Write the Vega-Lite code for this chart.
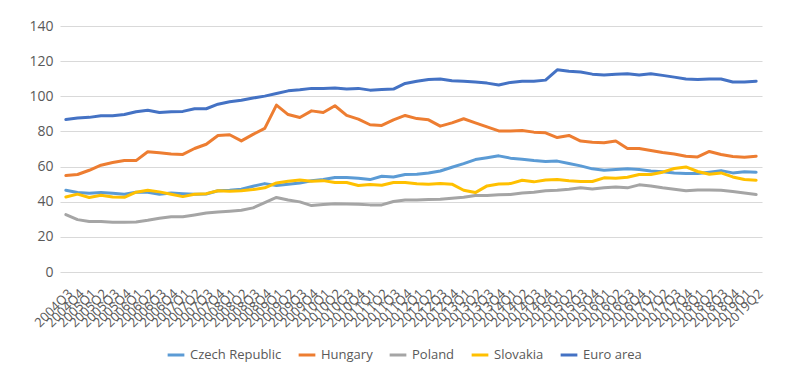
{
  "$schema": "https://vega.github.io/schema/vega-lite/v6.json",
  "width": 702,
  "height": 246,
  "autosize": "none",
  "padding": {"left": 60, "top": 26, "right": 27, "bottom": 98},
  "background": "white",
  "config": {
    "view": {"stroke": null},
    "font": "Open Sans",
    "axis": {"labelColor": "#595959", "labelFont": "Open Sans", "gridColor": "#d9d9d9", "gridWidth": 1}
  },
  "data": {"values": [
    {"q":"2004Q3","Czech Republic":46.5,"Hungary":54.9,"Poland":32.7,"Slovakia":42.7,"Euro area":86.8},
    {"q":"2004Q4","Czech Republic":45.2,"Hungary":55.5,"Poland":29.8,"Slovakia":44.3,"Euro area":87.6},
    {"q":"2005Q1","Czech Republic":44.8,"Hungary":57.9,"Poland":28.7,"Slovakia":42.4,"Euro area":88.0},
    {"q":"2005Q2","Czech Republic":45.2,"Hungary":60.8,"Poland":28.7,"Slovakia":43.7,"Euro area":88.9},
    {"q":"2005Q3","Czech Republic":44.8,"Hungary":62.3,"Poland":28.3,"Slovakia":42.7,"Euro area":88.9},
    {"q":"2005Q4","Czech Republic":44.3,"Hungary":63.4,"Poland":28.3,"Slovakia":42.5,"Euro area":89.6},
    {"q":"2006Q1","Czech Republic":45.4,"Hungary":63.4,"Poland":28.5,"Slovakia":45.4,"Euro area":91.2},
    {"q":"2006Q2","Czech Republic":45.4,"Hungary":68.4,"Poland":29.4,"Slovakia":46.5,"Euro area":92.1},
    {"q":"2006Q3","Czech Republic":44.3,"Hungary":67.8,"Poland":30.6,"Slovakia":45.6,"Euro area":90.8},
    {"q":"2006Q4","Czech Republic":45.0,"Hungary":67.2,"Poland":31.5,"Slovakia":44.3,"Euro area":91.2},
    {"q":"2007Q1","Czech Republic":44.6,"Hungary":66.9,"Poland":31.5,"Slovakia":42.9,"Euro area":91.4},
    {"q":"2007Q2","Czech Republic":44.3,"Hungary":70.3,"Poland":32.5,"Slovakia":44.3,"Euro area":92.9},
    {"q":"2007Q3","Czech Republic":44.4,"Hungary":72.7,"Poland":33.6,"Slovakia":44.6,"Euro area":92.9},
    {"q":"2007Q4","Czech Republic":46.2,"Hungary":77.7,"Poland":34.2,"Slovakia":46.2,"Euro area":95.5},
    {"q":"2008Q1","Czech Republic":46.5,"Hungary":78.1,"Poland":34.6,"Slovakia":46.0,"Euro area":96.9},
    {"q":"2008Q2","Czech Republic":47.1,"Hungary":74.6,"Poland":35.1,"Slovakia":46.3,"Euro area":97.8},
    {"q":"2008Q3","Czech Republic":48.8,"Hungary":78.3,"Poland":36.5,"Slovakia":46.9,"Euro area":99.0},
    {"q":"2008Q4","Czech Republic":50.3,"Hungary":81.7,"Poland":39.5,"Slovakia":47.9,"Euro area":100.1},
    {"q":"2009Q1","Czech Republic":49.2,"Hungary":95.0,"Poland":42.4,"Slovakia":50.7,"Euro area":101.6},
    {"q":"2009Q2","Czech Republic":50.0,"Hungary":89.6,"Poland":41.0,"Slovakia":51.7,"Euro area":103.1},
    {"q":"2009Q3","Czech Republic":50.7,"Hungary":87.9,"Poland":39.9,"Slovakia":52.4,"Euro area":103.7},
    {"q":"2009Q4","Czech Republic":51.9,"Hungary":91.7,"Poland":37.8,"Slovakia":51.7,"Euro area":104.5},
    {"q":"2010Q1","Czech Republic":52.6,"Hungary":90.8,"Poland":38.4,"Slovakia":52.0,"Euro area":104.5},
    {"q":"2010Q2","Czech Republic":53.8,"Hungary":94.6,"Poland":38.9,"Slovakia":50.9,"Euro area":104.7},
    {"q":"2010Q3","Czech Republic":53.8,"Hungary":89.1,"Poland":38.7,"Slovakia":50.9,"Euro area":104.1},
    {"q":"2010Q4","Czech Republic":53.4,"Hungary":87.0,"Poland":38.6,"Slovakia":49.2,"Euro area":104.5},
    {"q":"2011Q1","Czech Republic":52.6,"Hungary":83.8,"Poland":38.2,"Slovakia":49.8,"Euro area":103.5},
    {"q":"2011Q2","Czech Republic":54.5,"Hungary":83.4,"Poland":38.2,"Slovakia":49.4,"Euro area":103.9},
    {"q":"2011Q3","Czech Republic":54.1,"Hungary":86.6,"Poland":40.1,"Slovakia":50.9,"Euro area":104.1},
    {"q":"2011Q4","Czech Republic":55.5,"Hungary":89.1,"Poland":41.0,"Slovakia":50.9,"Euro area":107.3},
    {"q":"2012Q1","Czech Republic":55.6,"Hungary":87.3,"Poland":41.0,"Slovakia":50.2,"Euro area":108.6},
    {"q":"2012Q2","Czech Republic":56.4,"Hungary":86.6,"Poland":41.3,"Slovakia":50.0,"Euro area":109.6},
    {"q":"2012Q3","Czech Republic":57.5,"Hungary":83.0,"Poland":41.4,"Slovakia":50.3,"Euro area":109.8},
    {"q":"2012Q4","Czech Republic":59.6,"Hungary":84.9,"Poland":42.0,"Slovakia":50.0,"Euro area":108.8},
    {"q":"2013Q1","Czech Republic":61.7,"Hungary":87.2,"Poland":42.5,"Slovakia":46.5,"Euro area":108.6},
    {"q":"2013Q2","Czech Republic":64.0,"Hungary":84.9,"Poland":43.5,"Slovakia":45.2,"Euro area":108.1},
    {"q":"2013Q3","Czech Republic":65.0,"Hungary":82.6,"Poland":43.5,"Slovakia":49.0,"Euro area":107.5},
    {"q":"2013Q4","Czech Republic":66.1,"Hungary":80.3,"Poland":43.9,"Slovakia":50.1,"Euro area":106.4},
    {"q":"2014Q1","Czech Republic":64.8,"Hungary":80.2,"Poland":44.1,"Slovakia":50.3,"Euro area":107.9},
    {"q":"2014Q2","Czech Republic":64.2,"Hungary":80.5,"Poland":45.0,"Slovakia":52.2,"Euro area":108.6},
    {"q":"2014Q3","Czech Republic":63.4,"Hungary":79.6,"Poland":45.4,"Slovakia":51.3,"Euro area":108.6},
    {"q":"2014Q4","Czech Republic":62.9,"Hungary":79.2,"Poland":46.2,"Slovakia":52.4,"Euro area":109.2},
    {"q":"2015Q1","Czech Republic":63.1,"Hungary":76.5,"Poland":46.5,"Slovakia":52.6,"Euro area":115.1},
    {"q":"2015Q2","Czech Republic":61.7,"Hungary":77.7,"Poland":47.1,"Slovakia":51.9,"Euro area":114.3},
    {"q":"2015Q3","Czech Republic":60.4,"Hungary":74.5,"Poland":47.9,"Slovakia":51.5,"Euro area":113.8},
    {"q":"2015Q4","Czech Republic":58.7,"Hungary":73.9,"Poland":47.3,"Slovakia":51.5,"Euro area":112.6},
    {"q":"2016Q1","Czech Republic":57.9,"Hungary":73.5,"Poland":47.9,"Slovakia":53.6,"Euro area":112.1},
    {"q":"2016Q2","Czech Republic":58.3,"Hungary":74.5,"Poland":48.4,"Slovakia":53.4,"Euro area":112.6},
    {"q":"2016Q3","Czech Republic":58.7,"Hungary":70.3,"Poland":47.9,"Slovakia":53.9,"Euro area":112.8},
    {"q":"2016Q4","Czech Republic":58.3,"Hungary":70.3,"Poland":49.6,"Slovakia":55.5,"Euro area":112.1},
    {"q":"2017Q1","Czech Republic":57.5,"Hungary":69.1,"Poland":49.0,"Slovakia":55.5,"Euro area":112.8},
    {"q":"2017Q2","Czech Republic":57.0,"Hungary":68.0,"Poland":47.9,"Slovakia":56.8,"Euro area":111.9},
    {"q":"2017Q3","Czech Republic":56.4,"Hungary":67.2,"Poland":47.1,"Slovakia":58.9,"Euro area":110.9},
    {"q":"2017Q4","Czech Republic":56.0,"Hungary":65.9,"Poland":46.3,"Slovakia":59.8,"Euro area":109.8},
    {"q":"2018Q1","Czech Republic":56.0,"Hungary":65.5,"Poland":46.7,"Slovakia":57.2,"Euro area":109.6},
    {"q":"2018Q2","Czech Republic":56.8,"Hungary":68.6,"Poland":46.7,"Slovakia":55.6,"Euro area":109.8},
    {"q":"2018Q3","Czech Republic":57.7,"Hungary":66.9,"Poland":46.5,"Slovakia":56.4,"Euro area":109.8},
    {"q":"2018Q4","Czech Republic":56.4,"Hungary":65.7,"Poland":45.8,"Slovakia":54.1,"Euro area":108.1},
    {"q":"2019Q1","Czech Republic":57.0,"Hungary":65.3,"Poland":45.0,"Slovakia":52.6,"Euro area":108.1},
    {"q":"2019Q2","Czech Republic":56.8,"Hungary":65.9,"Poland":44.1,"Slovakia":52.2,"Euro area":108.6}
  ]},
  "transform": [
    {"fold": ["Czech Republic", "Hungary", "Poland", "Slovakia", "Euro area"], "as": ["series", "value"]}
  ],
  "mark": {"type": "line", "strokeWidth": 3, "strokeCap": "round", "strokeJoin": "round"},
  "encoding": {
    "x": {
      "field": "q", "type": "ordinal", "sort": null,
      "scale": {"type": "point", "padding": 0.5},
      "axis": {
        "title": null, "labelAngle": -45, "labelOverlap": false, "labelFontSize": 13,
        "ticks": false, "domain": false, "labelPadding": 15, "grid": false
      }
    },
    "y": {
      "field": "value", "type": "quantitative",
      "scale": {"domain": [0, 140], "nice": false},
      "axis": {
        "title": null, "values": [0, 20, 40, 60, 80, 100, 120, 140], "labelFontSize": 14,
        "ticks": false, "domain": false, "labelPadding": 7
      }
    },
    "color": {
      "field": "series", "type": "nominal",
      "scale": {
        "domain": ["Czech Republic", "Hungary", "Poland", "Slovakia", "Euro area"],
        "range": ["#5B9BD5", "#ED7D31", "#A5A5A5", "#FFC000", "#4472C4"]
      },
      "legend": {
        "title": null, "orient": "none", "direction": "horizontal",
        "legendX": 106, "legendY": 319,
        "symbolType": "stroke", "symbolSize": 280, "symbolStrokeWidth": 3,
        "labelFontSize": 13, "labelColor": "#595959", "labelFont": "Open Sans",
        "columnPadding": 10, "labelOffset": 4, "gridAlign": "none"
      }
    }
  }
}
